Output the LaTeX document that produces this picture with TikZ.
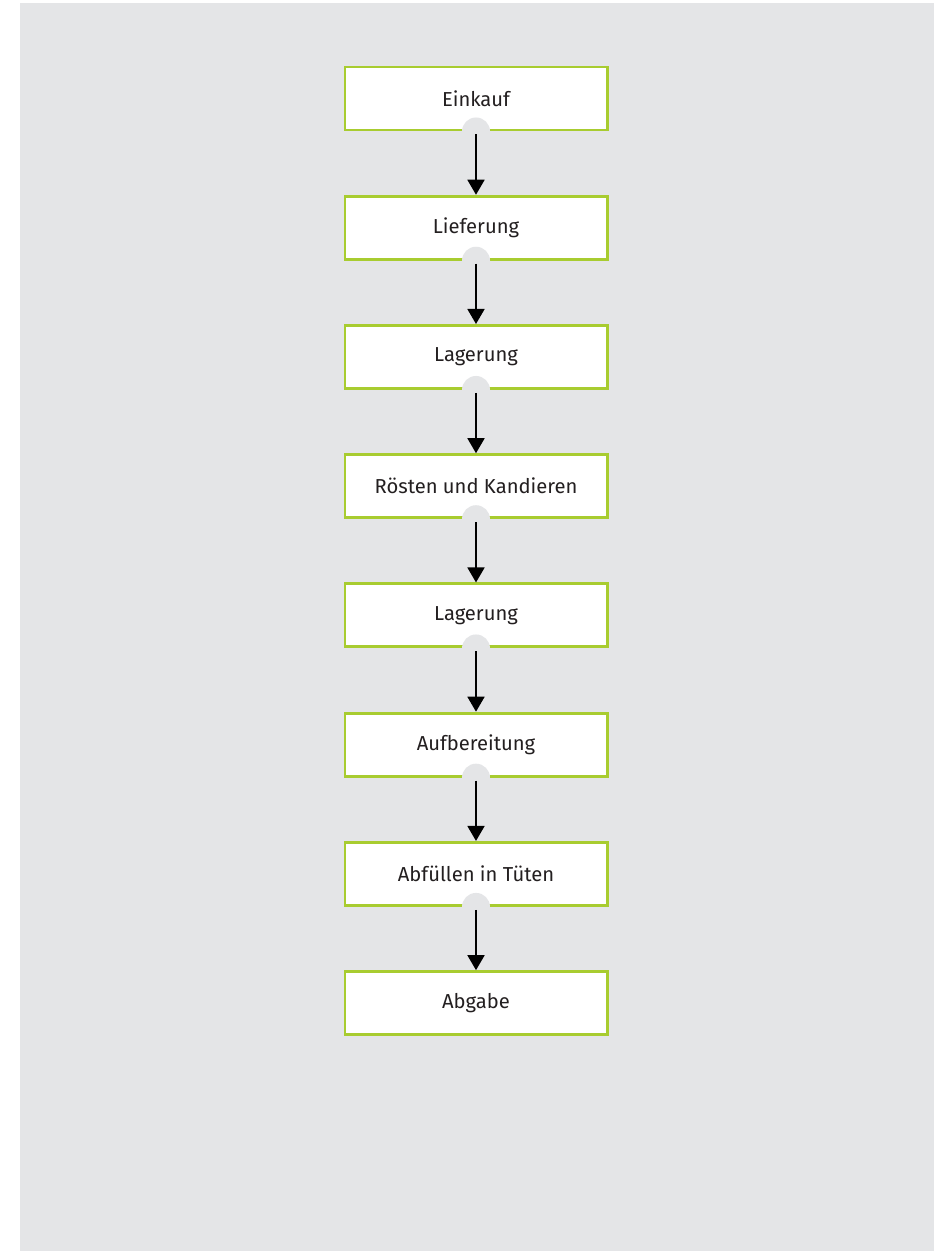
\documentclass[tikz,border=0pt]{standalone}
\usepackage{fontspec}
\setmainfont{Fira Sans}
\usetikzlibrary{positioning,arrows.meta}

\definecolor{bggray}{RGB}{228,229,231}
\definecolor{limegreen}{RGB}{168,204,48}
\definecolor{textgray}{RGB}{35,31,32}

\tikzset{
  stepbox/.style={draw=limegreen, line width=1.7pt, fill=white,
    minimum width=5.24cm, minimum height=1.26cm, inner sep=0pt,
    text=textgray, font=\fontsize{11.5}{13}\selectfont},
  flowarrow/.style={line width=1pt, -{Triangle[width=0.34cm,length=0.3cm]}}
}

\begin{document}
\begin{tikzpicture}[node distance=1.265cm]
  \useasboundingbox (0,0) rectangle (18.74,-25.02);
  \fill [bggray] (0.4,-0.06) rectangle (18.68,-25.02);

  \node [stepbox] (einkauf) at (9.52,-1.97) {Einkauf};
  \node [stepbox, below=of einkauf] (lieferung) {Lieferung};
  \node [stepbox, below=of lieferung] (lagerung1) {Lagerung};
  \node [stepbox, below=of lagerung1] (roesten) {Rösten und Kandieren};
  \node [stepbox, below=of roesten] (lagerung2) {Lagerung};
  \node [stepbox, below=of lagerung2] (aufbereitung) {Aufbereitung};
  \node [stepbox, below=of aufbereitung] (abfuellen) {Abfüllen in Tüten};
  \node [stepbox, below=of abfuellen] (abgabe) {Abgabe};

  % notch under each box, then the arrow down to the next one
  \foreach \a/\b in {einkauf/lieferung, lieferung/lagerung1, lagerung1/roesten,
      roesten/lagerung2, lagerung2/aufbereitung, aufbereitung/abfuellen,
      abfuellen/abgabe} {
    \fill [bggray] (\a.south) circle (0.28cm);
    \draw [flowarrow] ([yshift=-0.06cm]\a.south) -- (\b.north);
  }
\end{tikzpicture}
\end{document}
